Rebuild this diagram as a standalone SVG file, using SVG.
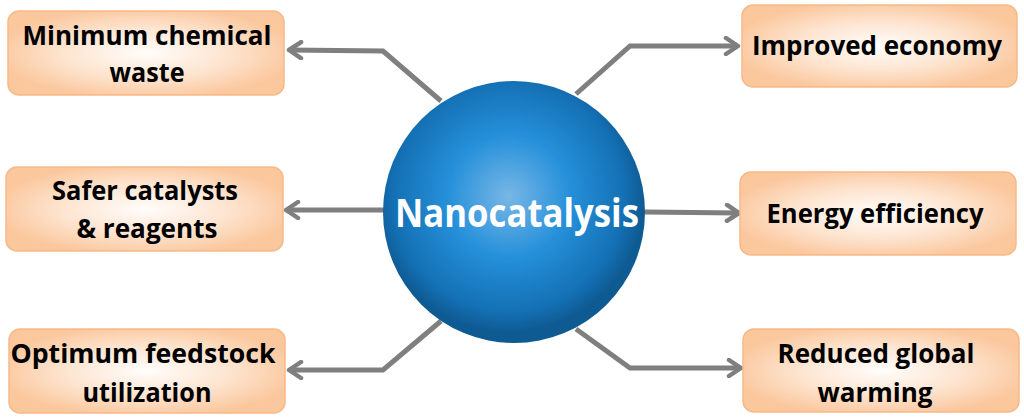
<svg xmlns="http://www.w3.org/2000/svg" width="1024" height="419" viewBox="0 0 1024 419">
<defs>
<radialGradient id="boxg" cx="50%" cy="50%" r="55%">
<stop offset="0" stop-color="#fffdfb"/>
<stop offset="0.55" stop-color="#fde4cf"/>
<stop offset="1" stop-color="#fbc79d"/>
</radialGradient>
<radialGradient id="ballg" cx="48%" cy="44%" r="52%">
<stop offset="0" stop-color="#78b7e6"/>
<stop offset="0.45" stop-color="#2590da"/>
<stop offset="0.85" stop-color="#1470b4"/>
<stop offset="1" stop-color="#0e5a92"/>
</radialGradient>
<marker id="arr" viewBox="0 0 20 20" refX="17" refY="10" markerWidth="20" markerHeight="20" markerUnits="userSpaceOnUse" orient="auto">
<polyline points="5,2 17,10 5,18" fill="none" stroke="#7f7f7f" stroke-width="4.5" stroke-linecap="round" stroke-linejoin="round"/>
</marker>
<style>
.box{fill:url(#boxg);stroke:#f7b988;stroke-width:1.5}
.lbl{font-family:"Open Sans","Liberation Sans",sans-serif;font-weight:bold;font-size:27px;fill:#000;text-anchor:middle}
.con{fill:none;stroke:#7f7f7f;stroke-width:5;stroke-linejoin:miter}
.title{font-family:"Open Sans","Liberation Sans",sans-serif;font-weight:bold;font-size:40px;fill:#fff;text-anchor:middle}
</style>
</defs>
<rect width="1024" height="419" fill="#fff"/>
<g id="connectors">
<polyline class="con" points="441,101 383,51 289,50" marker-end="url(#arr)"/>
<polyline class="con" points="384,210 286,210" marker-end="url(#arr)"/>
<polyline class="con" points="441,321 383,370 289,370" marker-end="url(#arr)"/>
<polyline class="con" points="576,94 630,46 738,46" marker-end="url(#arr)"/>
<polyline class="con" points="645,212 739,213" marker-end="url(#arr)"/>
<polyline class="con" points="576,329 630,368 741,368" marker-end="url(#arr)"/>
</g>
<g id="center">
<circle cx="514" cy="212" r="131" fill="url(#ballg)"/>
<text class="title" x="517" y="227" textLength="244" lengthAdjust="spacingAndGlyphs">Nanocatalysis</text>
</g>
<g id="n-waste">
<rect class="box" x="8" y="11" width="276" height="84" rx="11"/>
<text class="lbl" x="147" y="45" textLength="249" lengthAdjust="spacingAndGlyphs">Minimum chemical</text>
<text class="lbl" x="147" y="82" textLength="75" lengthAdjust="spacingAndGlyphs">waste</text>
</g>
<g id="n-safer">
<rect class="box" x="6" y="167" width="277" height="84" rx="11"/>
<text class="lbl" x="145" y="200" textLength="186" lengthAdjust="spacingAndGlyphs">Safer catalysts</text>
<text class="lbl" x="147" y="238" textLength="141" lengthAdjust="spacingAndGlyphs">&amp; reagents</text>
</g>
<g id="n-feedstock">
<rect class="box" x="9" y="329" width="276" height="84" rx="11"/>
<text class="lbl" x="143" y="363" textLength="265" lengthAdjust="spacingAndGlyphs">Optimum feedstock</text>
<text class="lbl" x="147" y="402" textLength="129" lengthAdjust="spacingAndGlyphs">utilization</text>
</g>
<g id="n-economy">
<rect class="box" x="742" y="5" width="275" height="82" rx="11"/>
<text class="lbl" x="877" y="55" textLength="250" lengthAdjust="spacingAndGlyphs">Improved economy</text>
</g>
<g id="n-energy">
<rect class="box" x="740" y="172" width="276" height="83" rx="11"/>
<text class="lbl" x="875" y="223" textLength="217" lengthAdjust="spacingAndGlyphs">Energy efficiency</text>
</g>
<g id="n-warming">
<rect class="box" x="743" y="329" width="276" height="83" rx="11"/>
<text class="lbl" x="876" y="363" textLength="197" lengthAdjust="spacingAndGlyphs">Reduced global</text>
<text class="lbl" x="875" y="402" textLength="115" lengthAdjust="spacingAndGlyphs">warming</text>
</g>
</svg>
